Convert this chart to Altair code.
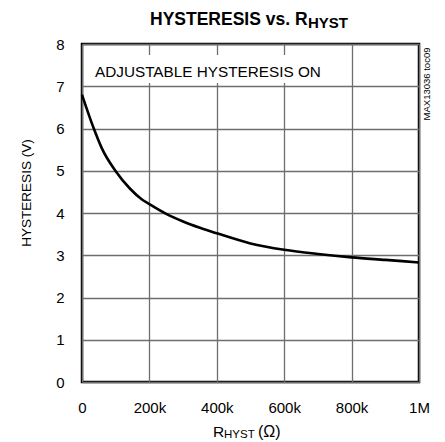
import altair as alt
import pandas as pd

# Data
r_hyst = [0, 35000, 59000, 99000, 142000, 178000, 200000, 250000, 300000,
          350000, 400000, 500000, 600000, 700000, 800000, 900000, 1000000]
hysteresis = [6.80, 6.0, 5.53, 5.0, 4.58, 4.32, 4.21, 3.98, 3.80,
              3.65, 3.52, 3.28, 3.13, 3.03, 2.95, 2.89, 2.83]

x_ticks = [0, 200000, 400000, 600000, 800000, 1000000]
x_tick_labels = ["0", "200k", "400k", "600k", "800k", "1M"]
y_ticks = [0, 1, 2, 3, 4, 5, 6, 7, 8]

df = pd.DataFrame({"r": r_hyst, "h": hysteresis})

label_expr = " : ".join(
    [f"datum.value == {v} ? '{l}'" for v, l in zip(x_ticks, x_tick_labels)]
) + " : ''"

FONT = "Liberation Sans"
W, H = 337, 338

base = alt.Chart(df)

line = base.mark_line(color="black", strokeWidth=2.6, interpolate="monotone").encode(
    x=alt.X("r:Q", scale=alt.Scale(domain=[0, 1000000], nice=False),
            axis=alt.Axis(values=x_ticks, labelExpr=label_expr, title=None,
                          domain=False, ticks=False, grid=True,
                          gridColor="#6e6e6e", gridWidth=1.3,
                          labelFont=FONT, labelFontSize=15, labelColor="black",
                          labelPadding=18, labelFlush=False)),
    y=alt.Y("h:Q", scale=alt.Scale(domain=[0, 8], nice=False),
            axis=alt.Axis(values=y_ticks, title=None, domain=False, ticks=False,
                          grid=True, gridColor="#6e6e6e", gridWidth=1.3,
                          labelFont=FONT, labelFontSize=15, labelColor="black",
                          labelPadding=18, labelFlush=False)),
)

box = base.mark_rect(color="white").encode(
    x=alt.value(6), x2=alt.value(248), y=alt.value(11), y2=alt.value(39)
)

def txt(text, x, y, size, bold=False, angle=0, align="left", baseline="alphabetic"):
    return alt.Chart(pd.DataFrame({"t": [text]})).mark_text(
        font=FONT, fontSize=size, fontWeight="bold" if bold else "normal",
        color="black", align=align, baseline=baseline, angle=angle
    ).encode(x=alt.value(x), y=alt.value(y), text="t:N")

annot = txt("ADJUSTABLE HYSTERESIS ON", 13, 33, 15.3)
title1 = txt("HYSTERESIS vs. R", 68, -19, 17.5, bold=True)
title2 = txt("HYST", 226, -16, 15, bold=True)
xt1 = txt("R", 131, 393, 15.5)
xt2 = txt("HYST", 142, 394, 11.5)
xt3 = txt("(\u03a9)", 176, 393, 16)
yt = txt("HYSTERESIS (V)", -55, 149, 13.5, angle=270, align="center", baseline="middle")
note = txt("MAX13036 toc09", 345, 40, 9.5, angle=270, align="center", baseline="middle")

chart = alt.layer(box, line, annot, title1, title2, xt1, xt2, xt3, yt, note).properties(
    width=W, height=H,
    autosize=alt.AutoSizeParams(type="none"),
    padding={"left": 74, "top": 36, "right": 18, "bottom": 58},
).configure_view(stroke="black", strokeWidth=2.5)

chart.save("out.html", embed_options={"renderer": "svg", "actions": False})
